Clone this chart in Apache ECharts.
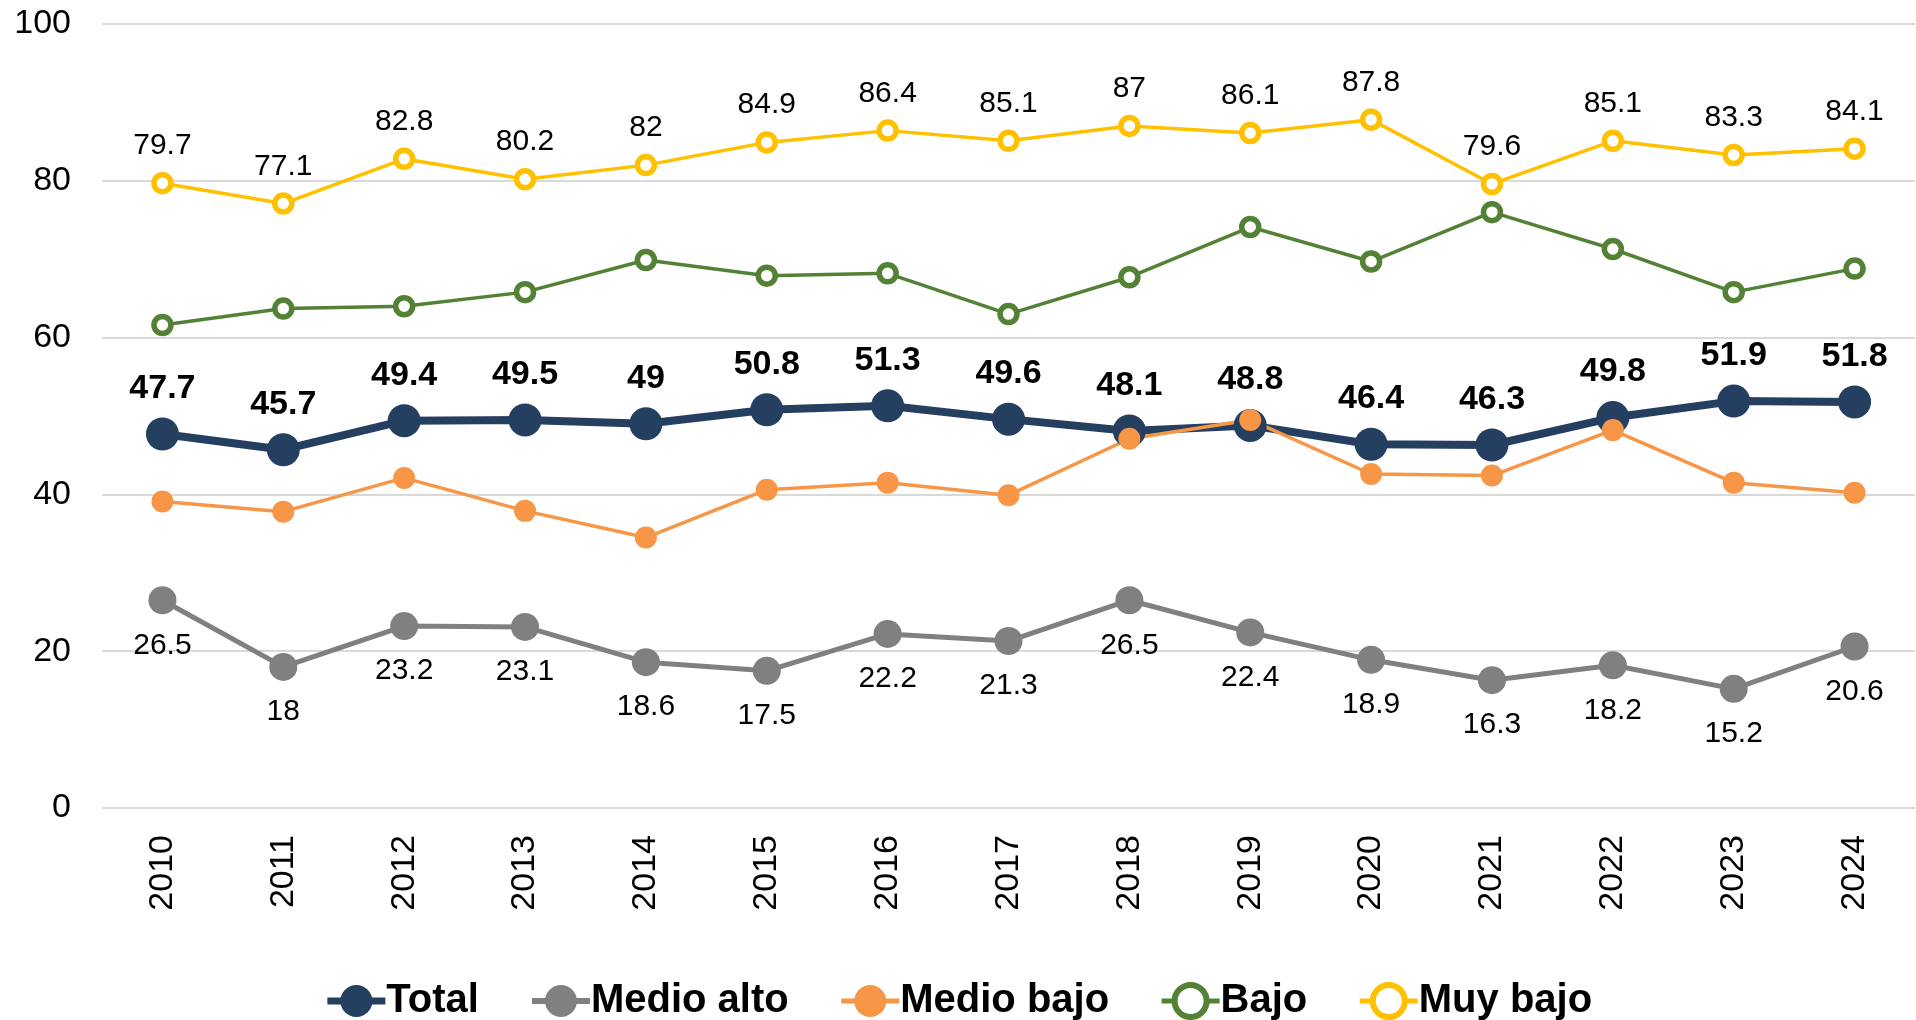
<!DOCTYPE html>
<html>
<head>
<meta charset="utf-8">
<script src="https://cdn.jsdelivr.net/npm/echarts@6/dist/echarts.min.js"></script>
<style>html,body{margin:0;padding:0;background:#fff;}#c{width:1916px;height:1020px;}</style>
</head>
<body>
<div id="c"></div>
<script>
const years = ['2010','2011','2012','2013','2014','2015','2016','2017','2018','2019','2020','2021','2022','2023','2024'];
const total = [47.7,45.7,49.4,49.5,49,50.8,51.3,49.6,48.1,48.8,46.4,46.3,49.8,51.9,51.8];
const medioAlto = [26.5,18,23.2,23.1,18.6,17.5,22.2,21.3,26.5,22.4,18.9,16.3,18.2,15.2,20.6];
const medioBajo = [39.1,37.8,42.1,37.9,34.5,40.6,41.5,39.9,47.1,49.5,42.6,42.4,48.2,41.5,40.2];
const bajo = [61.6,63.7,64.0,65.8,69.9,67.9,68.2,63.0,67.7,74.1,69.7,76.0,71.3,65.8,68.8];
const muyBajo = [79.7,77.1,82.8,80.2,82,84.9,86.4,85.1,87,86.1,87.8,79.6,85.1,83.3,84.1];
const yTicks = [0,20,40,60,80,100];

const FONT = '"Liberation Sans", Arial, sans-serif';
const C = {total:'#243F60', alto:'#808080', bajoM:'#F79646', bajo:'#538135', muy:'#FFC000'};
const chart = echarts.init(document.getElementById('c'), null, {renderer:'canvas'});
chart.setOption({
  animation: false,
  grid: {left: 102, right: 1, top: 24, bottom: 212},
  legend: {
    bottom: -6, left: 'center',
    itemWidth: 58, itemHeight: 40, itemGap: 50,
    textStyle: {fontFamily: FONT, fontWeight: 'bold', fontSize: 40, color: '#000', padding:[0,0,0,-4]},
    data: [
      {name:'Total', lineStyle:{width:7}},
      {name:'Medio alto', lineStyle:{width:6}},
      {name:'Medio bajo', lineStyle:{width:5}},
      {name:'Bajo', lineStyle:{width:5}, itemStyle:{borderWidth:6}},
      {name:'Muy bajo', lineStyle:{width:5}, itemStyle:{borderWidth:6}}
    ]
  },
  xAxis: {
    type: 'category', data: years, boundaryGap: true,
    axisLine: {show: false}, axisTick: {show: false},
    axisLabel: {rotate: 90, fontFamily: FONT, fontSize: 34, color: '#000', margin: 27}
  },
  yAxis: {
    type: 'value', min: 0, max: 100, interval: 20,
    axisLine: {show: false}, axisTick: {show: false},
    splitLine: {lineStyle: {color: '#d9d9d9', width: 2}},
    axisLabel: {fontFamily: FONT, fontSize: 34, color: '#000', margin: 31,
      formatter: v => yTicks.includes(v) ? String(v) : ''}
  },
  series: [
    {name: 'Total', type: 'line', data: total, symbol: 'circle', symbolSize: 33,
     itemStyle: {color: C.total}, lineStyle: {color: C.total, width: 8},
     label: {show: true, position: 'top', distance: 12, fontFamily: FONT, fontWeight: 'bold', fontSize: 34, color: '#000'}},
    {name: 'Medio alto', type: 'line', data: medioAlto, symbol: 'circle', symbolSize: 28,
     itemStyle: {color: C.alto}, lineStyle: {color: C.alto, width: 5},
     label: {show: true, position: 'bottom', distance: 16, fontFamily: FONT, fontSize: 30, color: '#000'}},
    {name: 'Medio bajo', type: 'line', data: medioBajo, symbol: 'circle', symbolSize: 22,
     itemStyle: {color: C.bajoM}, lineStyle: {color: C.bajoM, width: 3.5}},
    {name: 'Bajo', type: 'line', data: bajo, symbol: 'circle', symbolSize: 17,
     itemStyle: {color: '#fff', borderColor: C.bajo, borderWidth: 5.5}, lineStyle: {color: C.bajo, width: 3.5}},
    {name: 'Muy bajo', type: 'line', data: muyBajo, symbol: 'circle', symbolSize: 17,
     itemStyle: {color: '#fff', borderColor: C.muy, borderWidth: 5.5}, lineStyle: {color: C.muy, width: 3.5},
     label: {show: true, position: 'top', distance: 11, fontFamily: FONT, fontSize: 30, color: '#000'}}
  ]
});
</script>
</body>
</html>
